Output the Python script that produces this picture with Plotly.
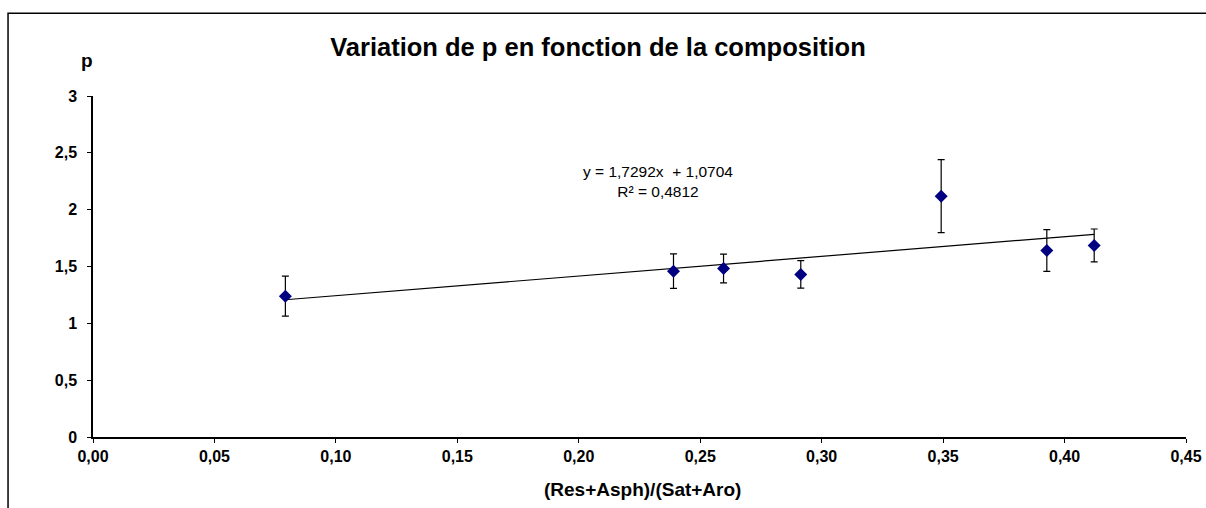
import plotly.graph_objects as go

# Data
x_vals = [0.0792, 0.2390, 0.2596, 0.2914, 0.3492, 0.3927, 0.4122]
p_vals = [1.239, 1.459, 1.482, 1.430, 2.119, 1.641, 1.685]
p_err = [0.176, 0.152, 0.126, 0.121, 0.321, 0.184, 0.145]

slope = 1.7292
intercept = 1.0704
r2 = 0.4812

x_ticks = [0.0, 0.05, 0.10, 0.15, 0.20, 0.25, 0.30, 0.35, 0.40, 0.45]
y_ticks = [0, 0.5, 1, 1.5, 2, 2.5, 3]

title_text = "Variation de p en fonction de la composition"
x_title = "(Res+Asph)/(Sat+Aro)"
y_title = "p"

FONT = "Liberation Sans, Arial, sans-serif"

trend_x = [min(x_vals), max(x_vals)]
trend_y = [slope * v + intercept for v in trend_x]

fig = go.Figure()
fig.add_trace(go.Scatter(
    x=trend_x, y=trend_y, mode="lines",
    line=dict(color="black", width=1.2), hoverinfo="skip", showlegend=False))
fig.add_trace(go.Scatter(
    x=x_vals, y=p_vals, mode="markers",
    marker=dict(symbol="diamond", color="#000080", size=10,
                line=dict(color="#000080", width=0)),
    error_y=dict(type="data", array=p_err, visible=True,
                 color="black", thickness=1.2, width=3.5),
    showlegend=False))

W, H = 1206, 508
L, R, T, B = 92.5, 20, 96, 71.3
pw = W - L - R
ph = H - T - B

def px(xp):
    return (xp - L) / pw

def py(yp):
    return (H - B - yp) / ph

eq = ("y = " + f"{slope:.4f}".replace(".", ",") + "x  + " + f"{intercept:.4f}".replace(".", ",")
      + "<br>R² = " + f"{r2:.4f}".replace(".", ","))

axis_common = dict(showgrid=False, zeroline=False, showline=True, linecolor="black", linewidth=1.5,
                   ticks="outside", ticklen=4, tickwidth=1.2, tickcolor="black",
                   tickfont=dict(size=16, family=FONT, color="black", weight="bold"),
                   fixedrange=True, automargin=False)

fig.update_layout(
    width=W, height=H,
    margin=dict(l=L, r=R, t=T, b=B, autoexpand=False),
    paper_bgcolor="white", plot_bgcolor="white",
    separators=",.",
    font=dict(family=FONT, color="black"),
    title=dict(text="<b>" + title_text + "</b>", x=598 / W, xref="container",
               xanchor="center", y=1 - 47 / H, yref="container", yanchor="middle",
               font=dict(size=25.5, family=FONT, color="black")),
    xaxis=dict(range=[0, 0.45], tickvals=x_ticks, tickformat=".2f", **axis_common),
    yaxis=dict(range=[0, 3], tickvals=y_ticks, ticklabelstandoff=7, **axis_common),
    annotations=[
        dict(text=eq, x=px(658), y=py(181), xref="paper", yref="paper",
             xanchor="center", yanchor="middle",
             showarrow=False, align="center", font=dict(size=15.5, family=FONT, color="black")),
        dict(text="<b>" + y_title + "</b>", x=px(86), y=py(61), xref="paper", yref="paper",
             xanchor="center", yanchor="middle",
             showarrow=False, font=dict(size=19, family=FONT, color="black")),
        dict(text="<b>" + x_title + "</b>", x=px(642.5), y=py(489), xref="paper", yref="paper",
             xanchor="center", yanchor="middle",
             showarrow=False, font=dict(size=19, family=FONT, color="black")),
    ],
    shapes=[
        dict(type="rect", xref="paper", yref="paper", x0=px(7.5), y0=py(560), x1=px(1260), y1=py(13.3),
             line=dict(color="black", width=1.5), fillcolor="rgba(0,0,0,0)", layer="below"),
    ],
)

fig.write_html("out.html", config={"displayModeBar": False},
               post_script="document.body.style.margin='0';document.body.style.overflow='hidden';")
